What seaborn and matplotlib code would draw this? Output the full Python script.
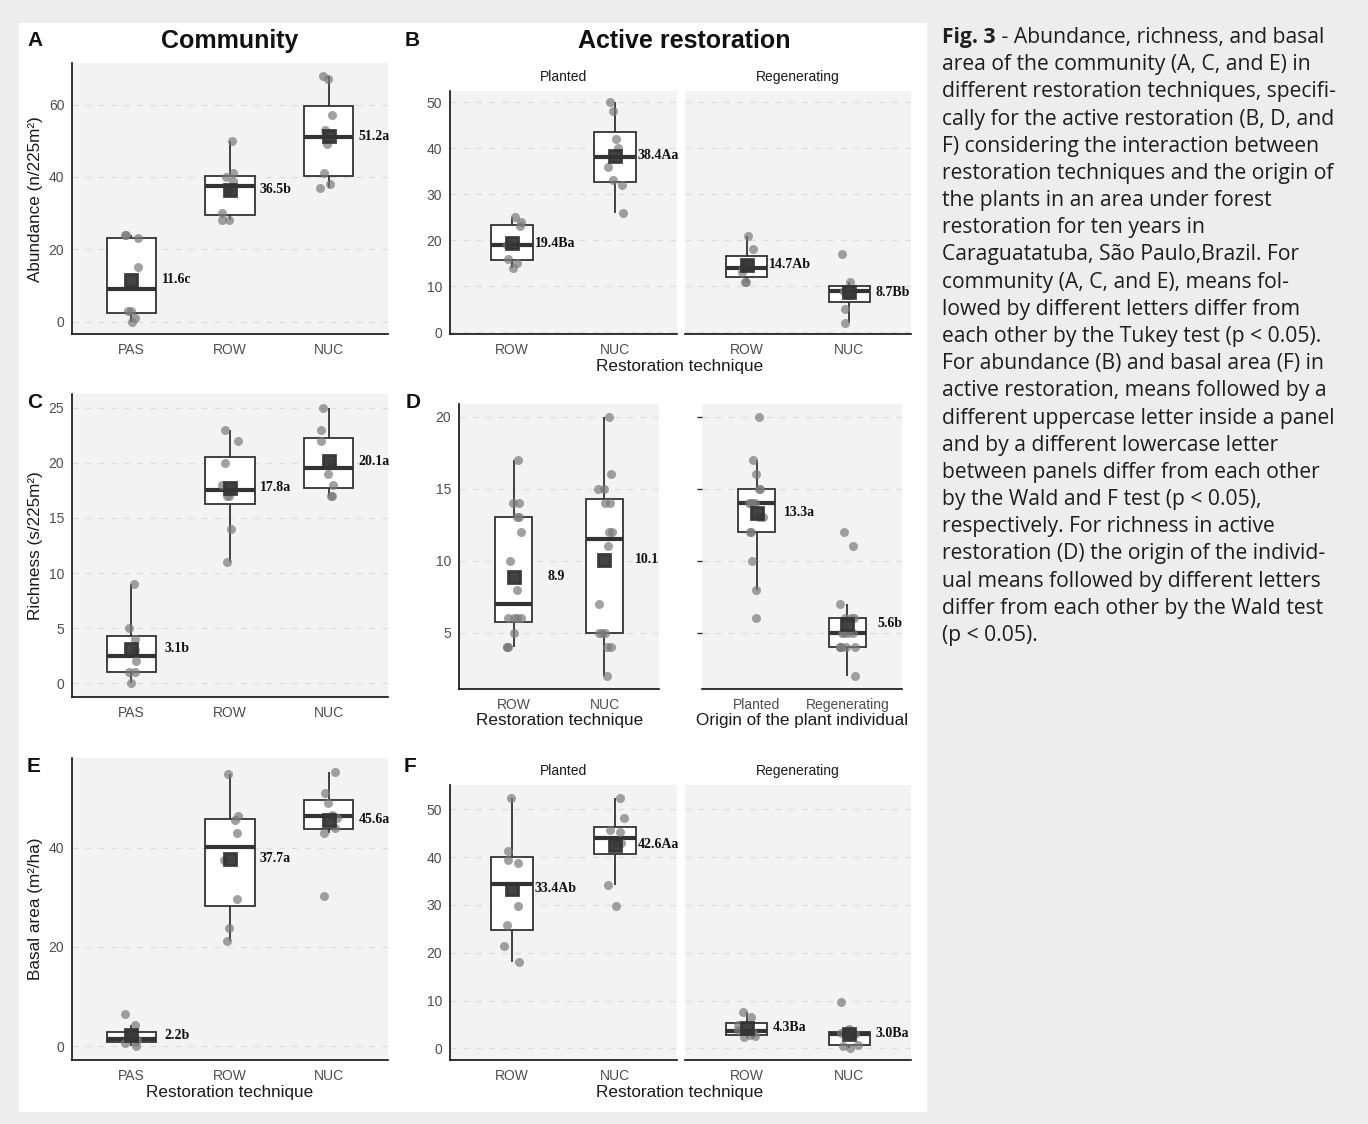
import numpy as np
import pandas as pd
import matplotlib
matplotlib.use("Agg")
import matplotlib.pyplot as plt
import seaborn as sns
from matplotlib.patches import Rectangle

# ---------------- data ----------------
tech3 = ["PAS", "ROW", "NUC"]
tech2 = ["ROW", "NUC"]
origin = ["Planted", "Regenerating"]

A_PAS = [0, 1, 3, 3, 15, 23, 24, 24]
A_ROW = [28, 28, 30, 36, 39, 40, 41, 50]
A_NUC = [37, 38, 41, 49, 53, 57, 67, 68]
A_labels = ["11.6c", "36.5b", "51.2a"]

B_planted_ROW = [14, 15, 16, 19, 19, 23, 24, 25]
B_planted_NUC = [26, 32, 33, 36, 40, 42, 48, 50]
B_regen_ROW = [11, 11, 13, 14, 15, 18, 21]
B_regen_NUC = [2, 5, 8, 9, 9, 11, 17]
B_planted_labels = ["19.4Ba", "38.4Aa"]
B_regen_labels = ["14.7Ab", "8.7Bb"]

C_PAS = [0, 1, 1, 2, 3, 4, 5, 9]
C_ROW = [11, 14, 17, 17, 18, 20, 22, 23]
C_NUC = [17, 17, 18, 19, 20, 22, 23, 25]
C_labels = ["3.1b", "17.8a", "20.1a"]

D_ROW = [4, 4, 4, 5, 6, 6, 6, 6, 8, 10, 12, 13, 13, 14, 14, 17]
D_NUC = [2, 4, 4, 5, 5, 5, 7, 11, 12, 12, 14, 14, 15, 15, 16, 20]
D_planted = [6, 8, 10, 12, 12, 13, 13, 14, 14, 14, 14, 15, 15, 16, 17, 20]
D_regen = [2, 4, 4, 4, 4, 4, 5, 5, 5, 5, 6, 6, 6, 7, 11, 12]
D_tech_labels = ["8.9", "10.1"]
D_origin_labels = ["13.3a", "5.6b"]

E_PAS = [0.05, 0.6, 0.8, 1.2, 1.6, 2.5, 4.2, 6.5]
E_ROW = [21.2, 23.9, 29.6, 37.5, 42.9, 45.6, 46.5, 54.9]
E_NUC = [30.3, 42.9, 44.0, 46.1, 46.6, 49.1, 51.1, 55.3]
E_labels = ["2.2b", "37.7a", "45.6a"]

F_planted_ROW = [18.1, 21.5, 25.7, 29.8, 38.8, 39.5, 41.3, 52.3]
F_planted_NUC = [29.7, 34.2, 42.9, 42.9, 45.3, 45.6, 48.1, 52.4]
F_regen_ROW = [2.3, 2.6, 2.8, 3.3, 3.9, 4.9, 6.6, 7.7]
F_regen_NUC = [0.1, 0.5, 0.8, 2.8, 3.0, 3.3, 4.0, 9.6]
F_planted_labels = ["33.4Ab", "42.6Aa"]
F_regen_labels = ["4.3Ba", "3.0Ba"]

caption_bold = "Fig. 3"
caption_lines = [
    " - Abundance, richness, and basal",
    "area of the community (A, C, and E) in",
    "different restoration techniques, specifi-",
    "cally for the active restoration (B, D, and",
    "F) considering the interaction between",
    "restoration techniques and the origin of",
    "the plants in an area under forest",
    "restoration for ten years in",
    "Caraguatatuba, São Paulo,Brazil. For",
    "community (A, C, and E), means fol-",
    "lowed by different letters differ from",
    "each other by the Tukey test (p < 0.05).",
    "For abundance (B) and basal area (F) in",
    "active restoration, means followed by a",
    "different uppercase letter inside a panel",
    "and by a different lowercase letter",
    "between panels differ from each other",
    "by the Wald and F test (p < 0.05),",
    "respectively. For richness in active",
    "restoration (D) the origin of the individ-",
    "ual means followed by different letters",
    "differ from each other by the Wald test",
    "(p < 0.05).",
]

# ---------------- style ----------------
sns.set_theme(style="white")
plt.rcParams['font.family'] = ['Liberation Sans', 'DejaVu Sans']
plt.rcParams['lines.scale_dashes'] = False

W, H = 1368, 1124
fig = plt.figure(figsize=(W / 100, H / 100), dpi=100)
fig.patch.set_facecolor('#ededed')
fig.add_artist(Rectangle((19 / W, 1 - 1112 / H), 908 / W, (1112 - 22.5) / H,
                         transform=fig.transFigure, facecolor='white',
                         edgecolor='none', zorder=-10))

BG = '#f3f3f3'
GRID = '#dcdcdc'
DARK = '#333333'
np.random.seed(3)


def add_ax(x0, y0, x1, y1):
    return fig.add_axes([x0 / W, 1 - y1 / H, (x1 - x0) / W, (y1 - y0) / H])


def panel(ax, groups, values, ylim, yticks, width, labels, dx, yaxis='full'):
    df = pd.DataFrame({'g': np.repeat(groups, [len(v) for v in values]),
                       'v': np.concatenate([np.asarray(v, float) for v in values])})
    ax.set_facecolor(BG)
    sns.boxplot(data=df, x='g', y='v', order=groups, width=width, showfliers=False,
                color='white', linecolor=DARK, linewidth=1.3, saturation=1,
                showcaps=False, medianprops=dict(linewidth=3.0, color=DARK), ax=ax)
    sns.stripplot(data=df, x='g', y='v', order=groups, jitter=0.09, color='#7a7a7a',
                  alpha=0.7, size=6.5, linewidth=0, ax=ax, zorder=3)
    sns.pointplot(data=df, x='g', y='v', order=groups, estimator='mean', errorbar=None,
                  markers='s', linestyles='none', markersize=9, color=DARK,
                  alpha=0.92, ax=ax, zorder=4)
    means = df.groupby('g', sort=False)['v'].mean()
    for i, g in enumerate(groups):
        ax.text(i + dx, means[g], labels[i], ha='center', va='center',
                fontfamily='Liberation Serif', fontweight='bold', fontsize=10,
                color='#111111', zorder=5)
    ax.set_xlim(-0.6, len(groups) - 0.4)
    ax.set_ylim(*ylim)
    ax.set_yticks(yticks)
    ax.set_xlabel('')
    ax.set_ylabel('')
    ax.set_axisbelow(True)
    ax.yaxis.grid(True, color=GRID, linewidth=0.9, linestyle=(0, (4.3, 5.0)))
    ax.xaxis.grid(False)
    for s in ['top', 'right']:
        ax.spines[s].set_visible(False)
    for s in ['left', 'bottom']:
        ax.spines[s].set_color('#111111')
        ax.spines[s].set_linewidth(1.2)
    ax.tick_params(axis='both', length=3.5, width=1, color=DARK,
                   labelcolor='#4d4d4d', labelsize=10)
    ax.tick_params(axis='x', pad=3)
    ax.tick_params(axis='y', pad=2)
    if yaxis == 'none':
        ax.spines['left'].set_visible(False)
        ax.tick_params(axis='y', left=False, labelleft=False)
    elif yaxis == 'ticks':
        ax.spines['left'].set_visible(False)
        ax.tick_params(axis='y', left=True, labelleft=False)


# A
ax = add_ax(72, 63.4, 388, 334)
panel(ax, tech3, [A_PAS, A_ROW, A_NUC], (-3.4, 71.4), [0, 20, 40, 60], 0.5, A_labels, 0.46)
# B
ax = add_ax(450, 91.2, 677, 334.1)
panel(ax, tech2, [B_planted_ROW, B_planted_NUC], (-0.4, 52.4), range(0, 51, 10), 0.4,
      B_planted_labels, 0.42)
ax = add_ax(685, 91.2, 911, 334.1)
panel(ax, tech2, [B_regen_ROW, B_regen_NUC], (-0.4, 52.4), range(0, 51, 10), 0.4,
      B_regen_labels, 0.42, yaxis='none')
# C
ax = add_ax(72, 393.9, 388, 697.1)
panel(ax, tech3, [C_PAS, C_ROW, C_NUC], (-1.25, 26.25), range(0, 26, 5), 0.5, C_labels, 0.46)
# D
ax = add_ax(459, 403.7, 659, 688.9)
panel(ax, tech2, [D_ROW, D_NUC], (1.1, 20.9), [5, 10, 15, 20], 0.4, D_tech_labels, 0.47)
ax = add_ax(702, 403.7, 902, 688.9)
panel(ax, origin, [D_planted, D_regen], (1.1, 20.9), [5, 10, 15, 20], 0.4, D_origin_labels,
      0.47, yaxis='ticks')
# E
ax = add_ax(72, 758, 388, 1060)
panel(ax, tech3, [E_PAS, E_ROW, E_NUC], (-2.8, 58.1), [0, 20, 40], 0.5, E_labels, 0.46)
# F
ax = add_ax(450, 785.4, 677, 1060.3)
panel(ax, tech2, [F_planted_ROW, F_planted_NUC], (-2.5, 55.0), range(0, 51, 10), 0.4,
      F_planted_labels, 0.42)
ax = add_ax(685, 785.4, 911, 1060.3)
panel(ax, tech2, [F_regen_ROW, F_regen_NUC], (-2.5, 55.0), range(0, 51, 10), 0.4,
      F_regen_labels, 0.42, yaxis='none')


def ftext(x, y, s, **kw):
    return fig.text(x / W, 1 - y / H, s, **kw)


# panel letters and titles
for (x, y, s) in [(27, 40, 'A'), (405, 40, 'B'), (27, 403, 'C'), (406, 402, 'D'),
                  (27, 766, 'E'), (404, 766, 'F')]:
    ftext(x, y, s, fontsize=15, fontweight='bold', ha='left', va='center', color='#111111')
ftext(230, 41, 'Community', fontsize=18, fontweight='bold', ha='center', va='center',
      color='#111111')
ftext(684, 41, 'Active restoration', fontsize=18, fontweight='bold', ha='center',
      va='center', color='#111111')

# strips
for y in (77, 771):
    ftext(563.5, y, 'Planted', fontsize=10, ha='center', va='center', color='#1a1a1a')
    ftext(798, y, 'Regenerating', fontsize=10, ha='center', va='center', color='#1a1a1a')

# axis titles
lab = dict(fontsize=12.3, ha='center', va='center', color='#1a1a1a')
ftext(36, 198.7, 'Abundance (n/225m²)', rotation=90, **lab)
ftext(36, 545.5, 'Richness (s/225m²)', rotation=90, **lab)
ftext(36, 909, 'Basal area (m²/ha)', rotation=90, **lab)
ftext(680, 366.5, 'Restoration technique', **lab)
ftext(560, 721, 'Restoration technique', **lab)
ftext(802, 721, 'Origin of the plant individual', **lab)
ftext(230, 1093, 'Restoration technique', **lab)
ftext(680, 1093, 'Restoration technique', **lab)

# caption
cap = dict(fontsize=15.2, ha='left', va='center', color='#1e1e1e',
           fontfamily=['Open Sans', 'DejaVu Sans'])
renderer = fig.canvas.get_renderer()
y0, dy = 37.5, 27.18
tb = ftext(942, y0, caption_bold, fontweight='bold', **cap)
bb = tb.get_window_extent(renderer)
ftext(bb.x1, y0, caption_lines[0], **cap)
for i, line in enumerate(caption_lines[1:], start=1):
    ftext(942, y0 + i * dy, line, **cap)

fig.savefig('out.png', dpi=100, facecolor=fig.get_facecolor())
